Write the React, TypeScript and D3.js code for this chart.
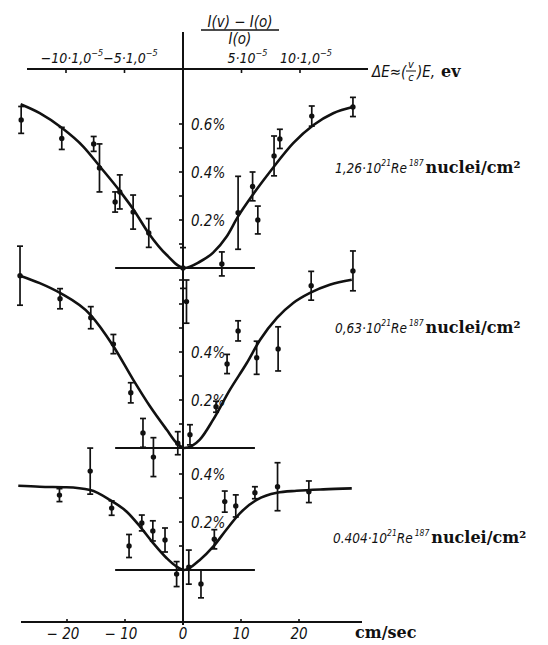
import React from "react";
import * as d3 from "d3";

// Velocity axis (cm/sec)
const velocityTicks = [-20, -10, 0, 10, 20];
// Energy axis ticks, in units of 1e-5 eV
const energyTicks = [-10, -5, 5, 10];
const energyTickLabels = ["−10·1,0", "−5·1,0", "5·10", "10·1,0"];

// Panel 1: 1,26·10^21 Re187 nuclei/cm²
const p1V = [-27.9, -20.9, -15.4, -14.4, -11.7, -10.9, -8.6, -5.9, 0.0, 0.6, 6.7, 9.5, 12.0, 12.9, 15.7, 16.7, 22.2, 29.3];
const p1Val = [0.617, 0.54, 0.517, 0.417, 0.275, 0.317, 0.233, 0.146, 0.0, -0.14, 0.017, 0.23, 0.34, 0.2, 0.467, 0.538, 0.633, 0.671];
const p1Err = [0.056, 0.046, 0.031, 0.1, 0.042, 0.071, 0.071, 0.06, 0.085, 0.09, 0.05, 0.152, 0.06, 0.058, 0.083, 0.04, 0.042, 0.04];
const p1CurveV = [-28.0, -24.7, -20.8, -17.2, -14.3, -10.9, -8.6, -5.9, -2.8, 0.2, 2.9, 5.2, 7.5, 9.5, 12.0, 15.6, 19.0, 22.5, 25.9, 29.4];
const p1CurveVal = [0.682, 0.645, 0.582, 0.506, 0.422, 0.321, 0.246, 0.144, 0.054, 0.0, 0.026, 0.064, 0.13, 0.215, 0.304, 0.42, 0.52, 0.596, 0.645, 0.672];

// Panel 2: 0,63·10^21 Re187 nuclei/cm²
const p2V = [-28.1, -21.2, -15.9, -12.0, -9.0, -6.9, -5.1, -0.9, 1.2, 5.7, 7.6, 9.5, 12.7, 16.4, 22.1, 29.3];
const p2Val = [0.718, 0.622, 0.543, 0.433, 0.23, 0.063, -0.038, 0.02, 0.055, 0.172, 0.35, 0.488, 0.376, 0.413, 0.676, 0.738];
const p2Err = [0.123, 0.042, 0.046, 0.04, 0.042, 0.06, 0.081, 0.048, 0.042, 0.023, 0.04, 0.042, 0.069, 0.092, 0.06, 0.083];
const p2CurveV = [-28.1, -24.7, -21.2, -16.0, -12.0, -8.6, -5.7, -2.8, -1.1, 0.2, 2.9, 5.2, 8.1, 11.0, 13.3, 16.2, 19.0, 21.9, 25.3, 29.1];
const p2CurveVal = [0.718, 0.687, 0.646, 0.556, 0.424, 0.285, 0.174, 0.076, 0.021, 0.0, 0.035, 0.118, 0.243, 0.354, 0.451, 0.542, 0.604, 0.646, 0.68, 0.701];

// Panel 3: 0.404·10^21 Re187 nuclei/cm²
const p3V = [-21.3, -16.0, -12.3, -9.3, -7.1, -5.2, -3.1, -1.1, 1.0, 3.1, 5.4, 7.2, 9.1, 12.4, 16.3, 21.7];
const p3Val = [0.312, 0.412, 0.258, 0.1, 0.196, 0.163, 0.125, -0.017, 0.012, -0.058, 0.128, 0.285, 0.267, 0.322, 0.347, 0.326];
const p3Err = [0.027, 0.096, 0.03, 0.048, 0.033, 0.042, 0.05, 0.052, 0.071, 0.058, 0.04, 0.044, 0.046, 0.025, 0.1, 0.045];
const p3CurveV = [-28.4, -24.7, -20.1, -16.0, -12.6, -9.7, -7.4, -5.1, -2.8, -1.1, 0.2, 2.9, 5.2, 7.5, 9.8, 12.7, 16.2, 19.6, 24.2, 29.1];
const p3CurveVal = [0.351, 0.347, 0.345, 0.333, 0.292, 0.243, 0.181, 0.111, 0.049, 0.014, 0.0, 0.042, 0.097, 0.169, 0.236, 0.292, 0.322, 0.33, 0.336, 0.34];

const panelThickness = ["1,26", "0,63", "0.404"];
const panelTicks = [
  [0.1, 0.2, 0.3, 0.4, 0.5, 0.6],
  [0.1, 0.2, 0.3, 0.4, 0.5, 0.6, 0.7],
  [0.1, 0.2, 0.3, 0.4],
];
const panelTickLabels = [
  [0.2, 0.4, 0.6],
  [0.2, 0.4],
  [0.2, 0.4],
];

const W = 548;
const H = 645;
const X0 = 183;
const PX_PER_V = 5.8;
const PX_PER_PCT = 240;
const panelBase = [268, 448, 570];
const panelLabelPos = [
  { x: 335, y: 173 },
  { x: 335, y: 333 },
  { x: 333, y: 543 },
];

const condensed = "'DejaVu Sans Condensed', 'Liberation Sans Narrow', 'DejaVu Sans', sans-serif";
const serifBold = "'DejaVu Serif', 'Liberation Serif', serif";

const xScale = d3.scaleLinear().domain([-30, 30]).range([X0 - 30 * PX_PER_V, X0 + 30 * PX_PER_V]);
const eScale = d3.scaleLinear().domain([-10, 10]).range([X0 - 117, X0 + 117]);

type Panel = {
  v: number[];
  val: number[];
  err: number[];
  cv: number[];
  cval: number[];
};

const panels: Panel[] = [
  { v: p1V, val: p1Val, err: p1Err, cv: p1CurveV, cval: p1CurveVal },
  { v: p2V, val: p2Val, err: p2Err, cv: p2CurveV, cval: p2CurveVal },
  { v: p3V, val: p3Val, err: p3Err, cv: p3CurveV, cval: p3CurveVal },
];

function PanelView({ p, i }: { p: Panel; i: number }) {
  const base = panelBase[i];
  const y = d3.scaleLinear().domain([0, 1]).range([base, base - PX_PER_PCT]);
  const line = d3
    .line<number>()
    .x((_, k) => xScale(p.cv[k]))
    .y((_, k) => y(p.cval[k]))
    .curve(d3.curveMonotoneX);
  const lab = panelLabelPos[i];
  return (
    <g>
      {/* zero line of this panel */}
      <line x1={xScale(-11.7)} x2={xScale(12.4)} y1={base} y2={base} stroke="#111" strokeWidth={2} />
      {/* minor ticks on the ordinate */}
      {panelTicks[i].map((t) => (
        <line key={t} x1={X0 - 4} x2={X0} y1={y(t)} y2={y(t)} stroke="#111" strokeWidth={1.6} />
      ))}
      {panelTickLabels[i].map((t) => (
        <text
          key={t}
          x={X0 + 8}
          y={y(t) + 6}
          fontFamily={condensed}
          fontStyle="italic"
          fontSize={15}
          fill="#111"
        >
          {`${t.toFixed(1)}%`}
        </text>
      ))}
      <path d={line(p.cv) || ""} fill="none" stroke="#111" strokeWidth={2.6} />
      {p.v.map((v, k) => {
        const cx = xScale(v);
        const lo = y(p.val[k] - p.err[k]);
        const hi = y(p.val[k] + p.err[k]);
        return (
          <g key={k} stroke="#111" strokeWidth={1.7}>
            <line x1={cx} x2={cx} y1={lo} y2={hi} />
            <line x1={cx - 3} x2={cx + 3} y1={lo} y2={lo} />
            <line x1={cx - 3} x2={cx + 3} y1={hi} y2={hi} />
            <circle cx={cx} cy={y(p.val[k])} r={2.7} fill="#111" stroke="none" />
          </g>
        );
      })}
      <text x={lab.x} y={lab.y} fill="#111" fontSize={13.5}>
        <tspan fontFamily={condensed} fontStyle="italic">{`${panelThickness[i]}·10`}</tspan>
        <tspan fontFamily={condensed} fontStyle="italic" fontSize={8.5} dy={-7}>21</tspan>
        <tspan fontFamily={condensed} fontStyle="italic" dy={7}>Re</tspan>
        <tspan fontFamily={condensed} fontStyle="italic" fontSize={8.5} dy={-7} dx={2}>187</tspan>
        <tspan fontFamily={serifBold} fontWeight="bold" fontSize={16} dy={7} dx={2}>nuclei/cm²</tspan>
      </text>
    </g>
  );
}

export default function App() {
  const bottomY = 622;
  const topY = 69;
  return (
    <svg
      width={W}
      height={H}
      viewBox={`0 0 ${W} ${H}`}
      style={{ position: "absolute", left: 0, top: 0, background: "#fff" }}
    >
      <rect width={W} height={H} fill="#fff" />

      {/* ordinate title */}
      <g fontFamily={condensed} fontStyle="italic" fontSize={15} fill="#111" textAnchor="middle">
        <text x={240} y={27}>I(v) − I(o)</text>
        <line x1={201} x2={279} y1={30} y2={30} stroke="#111" strokeWidth={1.5} />
        <text x={240} y={44}>I(o)</text>
      </g>

      {/* central ordinate */}
      <line x1={X0} x2={X0} y1={32} y2={625} stroke="#111" strokeWidth={2} />

      {/* energy axis */}
      <line x1={27} x2={368} y1={topY} y2={topY} stroke="#111" strokeWidth={2} />
      {energyTicks.map((t, k) => (
        <g key={t}>
          <line x1={eScale(t)} x2={eScale(t)} y1={topY} y2={topY + 4} stroke="#111" strokeWidth={1.6} />
          <text
            x={eScale(t) + 6}
            y={topY - 6}
            textAnchor="middle"
            fontFamily={condensed}
            fontStyle="italic"
            fontSize={14}
            fill="#111"
          >
            {energyTickLabels[k]}
            <tspan fontSize={9} dy={-7}>−5</tspan>
          </text>
        </g>
      ))}
      <g fill="#111">
        <text x={372} y={77} fontFamily={condensed} fontStyle="italic" fontSize={15}>ΔE≈(</text>
        <text x={411} y={68} fontFamily={condensed} fontStyle="italic" fontSize={11} textAnchor="middle">v</text>
        <line x1={406} x2={416} y1={71} y2={71} stroke="#111" strokeWidth={1} />
        <text x={411} y={81} fontFamily={condensed} fontStyle="italic" fontSize={11} textAnchor="middle">c</text>
        <text x={417} y={77} fontFamily={condensed} fontStyle="italic" fontSize={15}>)E,</text>
        <text x={441} y={77} fontFamily={serifBold} fontWeight="bold" fontSize={16}>ev</text>
      </g>

      {panels.map((p, i) => (
        <PanelView key={i} p={p} i={i} />
      ))}

      {/* velocity axis */}
      <line x1={21} x2={362} y1={bottomY} y2={bottomY} stroke="#111" strokeWidth={2} />
      {velocityTicks.map((t) => (
        <g key={t}>
          <line x1={xScale(t)} x2={xScale(t)} y1={bottomY} y2={bottomY - 3} stroke="#111" strokeWidth={1.6} />
          <text
            x={xScale(t) - (t < 0 ? 4 : 0)}
            y={639}
            textAnchor="middle"
            fontFamily={condensed}
            fontStyle="italic"
            fontSize={15}
            fill="#111"
          >
            {t < 0 ? `− ${Math.abs(t)}` : `${t}`}
          </text>
        </g>
      ))}
      <text x={355} y={638} fontFamily={serifBold} fontWeight="bold" fontSize={16} fill="#111">
        cm/sec
      </text>
    </svg>
  );
}
